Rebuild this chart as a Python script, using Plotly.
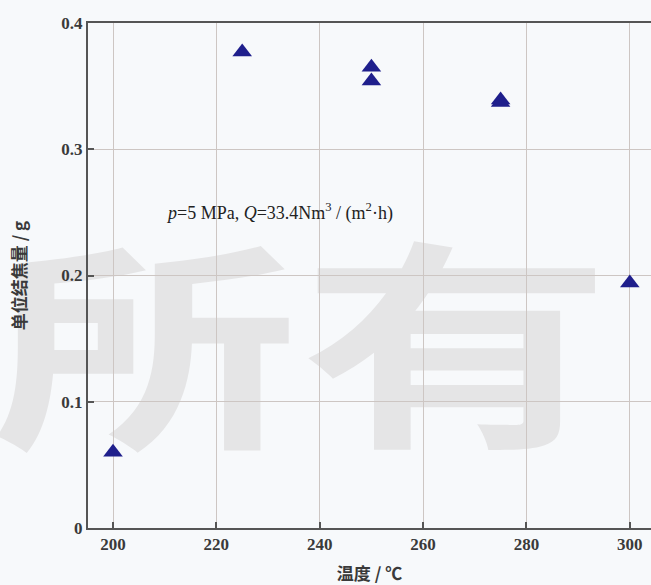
import base64
import plotly.graph_objects as go

temperature = [200, 225, 250, 250, 275, 275, 300]
coke_mass = [0.060, 0.377, 0.365, 0.354, 0.339, 0.337, 0.194]
x_ticks = [200, 220, 240, 260, 280, 300]
y_ticks = [0, 0.1, 0.2, 0.3, 0.4]
y_tick_text = ["0", "0.1", "0.2", "0.3", "0.4"]

serif = "Liberation Serif, Times New Roman, serif"
cjk = "Noto Sans CJK SC, sans-serif"

W, H = 651, 585
L, R, T, B = 88, 0, 23, 57
pw, ph = W - L - R, H - T - B

# watermark as an SVG image drawn beneath the grid
svg = f'''<svg xmlns="http://www.w3.org/2000/svg" width="{W}" height="{H}" viewBox="0 0 {W} {H}">
<g font-family="Noto Sans CJK SC" font-weight="700" font-size="222" fill="#e5e5e6" text-anchor="middle">
<text transform="translate(145,432) scale(1.38,1)">所</text>
<text transform="translate(456,430) scale(1.4,1)">有</text>
</g></svg>'''
src = "data:image/svg+xml;base64," + base64.b64encode(svg.encode("utf-8")).decode()

fig = go.Figure()
fig.add_trace(go.Scatter(
    x=temperature, y=coke_mass, mode="markers",
    marker=dict(symbol="triangle-up", size=17, color="#1f1f8c", line=dict(width=0)),
    showlegend=False, cliponaxis=False,
))

fig.add_layout_image(dict(
    source=src, xref="paper", yref="paper",
    x=-L / pw, y=1 + T / ph, sizex=W / pw, sizey=H / ph,
    xanchor="left", yanchor="top", sizing="stretch", layer="below",
))

fig.update_layout(
    width=W, height=H,
    margin=dict(l=L, r=R, t=T, b=B),
    paper_bgcolor="#f7f9fb", plot_bgcolor="rgba(0,0,0,0)",
    font=dict(family=serif, color="#333333"),
    xaxis=dict(
        range=[195.16, 304.1], tickvals=x_ticks,
        ticks="inside", ticklen=6, tickwidth=1.5, tickcolor="#555555",
        showline=True, linecolor="#555555", linewidth=2, mirror=True,
        showgrid=True, gridcolor="#cdc6c3", gridwidth=1.2, zeroline=False,
        tickfont=dict(family=serif, size=17, color="#3a3a3a", weight="bold"),
        title=dict(text="温度 / ℃", font=dict(family=cjk, size=17, color="#3a3a3a", weight="bold"), standoff=16),
    ),
    yaxis=dict(
        range=[0, 0.4], tickvals=y_ticks, ticktext=y_tick_text,
        ticks="inside", ticklen=6, tickwidth=1.5, tickcolor="#555555",
        showline=True, linecolor="#555555", linewidth=2,
        showgrid=True, gridcolor="#cdc6c3", gridwidth=1.2, zeroline=False,
        tickfont=dict(family=serif, size=17, color="#3a3a3a", weight="bold"),
        title=dict(text="单位结焦量 / g", font=dict(family=cjk, size=17, color="#3a3a3a", weight="bold"), standoff=30),
    ),
)

fig.add_annotation(x=209.8, y=0.25, xref="x", yref="y", xanchor="left", yanchor="middle",
                   text="<i>p</i>=5 MPa, <i>Q</i>=33.4Nm<sup>3</sup> / (m<sup>2</sup>·h)",
                   showarrow=False, font=dict(family=serif, size=18, color="#222222"))

fig.write_html("out.html")
